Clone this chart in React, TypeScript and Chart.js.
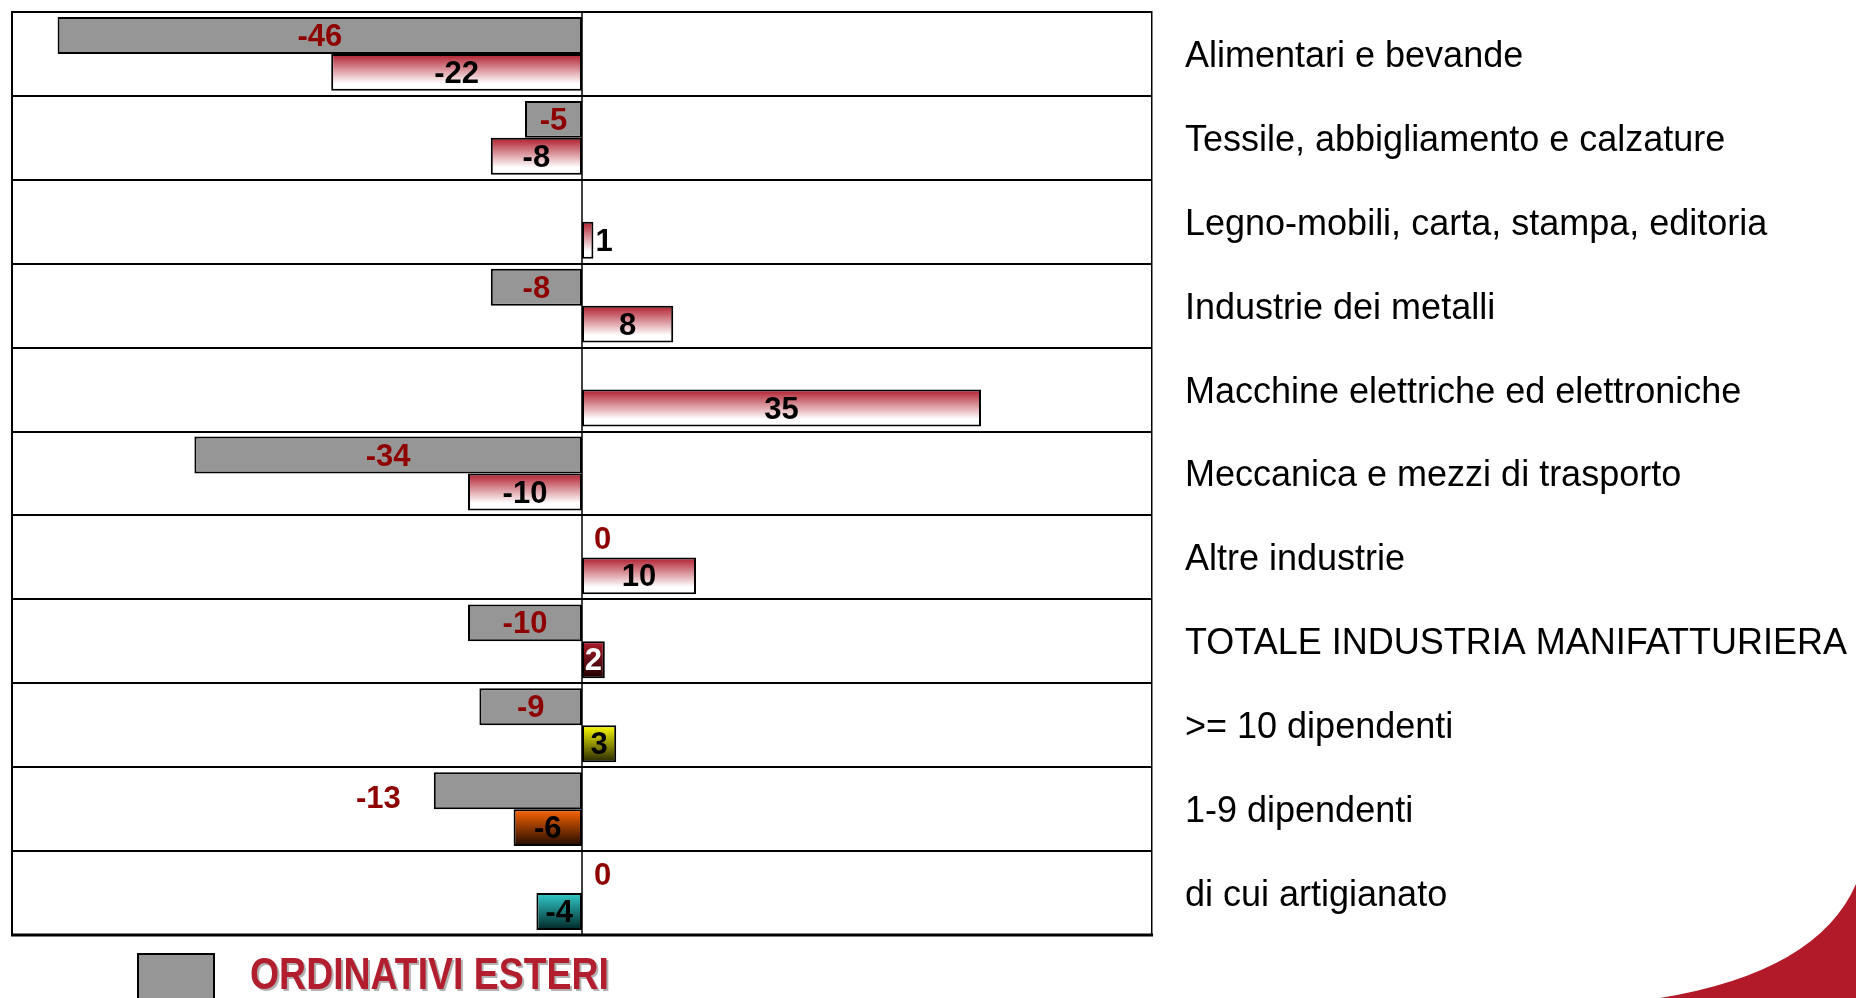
import React, { useEffect, useRef } from 'react';
import { Chart, registerables } from 'chart.js';

Chart.register(...registerables);

// ---------- data ----------
const categories = [
  'Alimentari e bevande',
  'Tessile, abbigliamento e calzature',
  'Legno-mobili, carta, stampa, editoria',
  'Industrie dei metalli',
  'Macchine elettriche ed elettroniche',
  'Meccanica e mezzi di trasporto',
  'Altre industrie',
  'TOTALE INDUSTRIA MANIFATTURIERA',
  '>= 10 dipendenti',
  '1-9 dipendenti',
  'di cui artigianato',
];
const ordinativiEsteri: (number | null)[] = [-46, -5, null, -8, null, -34, 0, -10, -9, -13, 0];
const ordinativiTotali: number[] = [-22, -8, 1, 8, 35, -10, 10, 2, 3, -6, -4];
const seriesNames = ['ORDINATIVI ESTERI', 'ORDINATIVI'];
const xMin = -50;
const xMax = 50;

// ---------- styles ----------
const FONT = 'Arial, "Liberation Sans", sans-serif';
const greyFill = '#969696';
const gradTop = ['#B01C2C', '#B01C2C', '#B01C2C', '#B01C2C', '#B01C2C', '#B01C2C', '#B01C2C', '#B01C2C', '#FFFF00', '#FF6600', '#33CCCC'];
const gradBottom = ['#FFFFFF', '#FFFFFF', '#FFFFFF', '#FFFFFF', '#FFFFFF', '#FFFFFF', '#FFFFFF', '#1E0000', '#262600', '#1E0A00', '#002626'];
const gradEnd = [0.8, 0.8, 0.8, 0.8, 0.8, 0.8, 0.8, 1, 1, 1, 1];
const labelColors = [
  Array(11).fill('#8E0000'),
  ['#000', '#000', '#000', '#000', '#000', '#000', '#000', '#FFFFFF', '#000', '#000', '#000'],
];
const labelPlacement = [
  ['c', 'c', 'c', 'c', 'c', 'c', 'c', 'c', 'c', 'outsideLeft', 'c'],
  Array(11).fill('c'),
];

const gradientPlugin = {
  id: 'barGradients',
  beforeDatasetDraw(chart: any, args: any) {
    if (args.index !== 1) return;
    const { ctx } = chart;
    args.meta.data.forEach((el: any, i: number) => {
      const { y, height } = el.getProps(['y', 'height'], true);
      const g = ctx.createLinearGradient(0, y - height / 2, 0, y + height / 2);
      g.addColorStop(0, gradTop[i]);
      g.addColorStop(gradEnd[i], gradBottom[i]);
      if (gradEnd[i] < 1) g.addColorStop(1, gradBottom[i]);
      try {
        el.options.backgroundColor = g;
      } catch (e) {
        /* ignore */
      }
    });
  },
};

const framePlugin = {
  id: 'frame',
  afterDatasetsDraw(chart: any) {
    const { ctx, chartArea } = chart;
    const zero = chart.scales.x.getPixelForValue(0);
    ctx.save();
    ctx.strokeStyle = '#000';
    // zero line
    ctx.lineWidth = 1.5;
    ctx.beginPath();
    ctx.moveTo(zero, chartArea.top);
    ctx.lineTo(zero, chartArea.bottom);
    ctx.stroke();
    // left border
    ctx.lineWidth = 2;
    ctx.beginPath();
    ctx.moveTo(chartArea.left, chartArea.top - 1);
    ctx.lineTo(chartArea.left, chartArea.bottom + 1);
    ctx.stroke();
    // bottom border (thicker)
    ctx.lineWidth = 3;
    ctx.beginPath();
    ctx.moveTo(chartArea.left - 1, chartArea.bottom);
    ctx.lineTo(chartArea.right + 1, chartArea.bottom);
    ctx.stroke();
    ctx.restore();
  },
};

const labelPlugin = {
  id: 'valueLabels',
  afterDatasetsDraw(chart: any) {
    const { ctx } = chart;
    ctx.save();
    ctx.font = `bold 31px ${FONT}`;
    ctx.textBaseline = 'middle';
    chart.data.datasets.forEach((ds: any, di: number) => {
      const meta = chart.getDatasetMeta(di);
      meta.data.forEach((el: any, i: number) => {
        const v = ds.data[i];
        if (v === null || v === undefined) return;
        const text = String(v);
        const tw = ctx.measureText(text).width;
        const { x, y, base } = el.getProps(['x', 'y', 'base'], true);
        const left = Math.min(x, base);
        const right = Math.max(x, base);
        const w = right - left;
        ctx.fillStyle = labelColors[di][i];
        const place = labelPlacement[di][i];
        if (place === 'outsideLeft') {
          ctx.textAlign = 'right';
          ctx.fillText(text, left - 33, y + 9);
        } else if (w < tw) {
          ctx.textAlign = 'left';
          ctx.fillText(text, right + (v === 0 ? 12 : 2), y + 2);
        } else {
          ctx.textAlign = 'center';
          ctx.fillText(text, (left + right) / 2, y + 2);
        }
      });
    });
    ctx.restore();
  },
};

const legendPlugin = {
  id: 'customLegend',
  afterDraw(chart: any) {
    const { ctx } = chart;
    const ds = chart.data.datasets[0];
    ctx.save();
    // legend swatch
    ctx.fillStyle = ds.backgroundColor;
    ctx.fillRect(138, 954, 76, 60);
    ctx.strokeStyle = '#000';
    ctx.lineWidth = 2;
    ctx.strokeRect(138, 954, 76, 60);
    // legend text
    ctx.font = `bold 44px ${FONT}`;
    ctx.textAlign = 'left';
    ctx.textBaseline = 'alphabetic';
    ctx.shadowColor = 'rgba(0,0,0,0.3)';
    ctx.shadowOffsetX = 2;
    ctx.shadowOffsetY = 2;
    ctx.shadowBlur = 0;
    ctx.fillStyle = '#B21E2D';
    ctx.fillText(ds.label, 250, 989, 359);
    ctx.restore();

    // decorative corner shape
    ctx.save();
    ctx.fillStyle = '#B21A29';
    ctx.beginPath();
    ctx.moveTo(1856, 884);
    ctx.quadraticCurveTo(1818, 972, 1660, 998);
    ctx.lineTo(1856, 998);
    ctx.closePath();
    ctx.fill();
    ctx.restore();
  },
};

export default function App() {
  const canvasRef = useRef<HTMLCanvasElement | null>(null);

  useEffect(() => {
    const canvas = canvasRef.current;
    if (!canvas) return;
    const chart = new Chart(canvas, {
      type: 'bar',
      data: {
        labels: categories,
        datasets: [
          {
            label: seriesNames[0],
            data: ordinativiEsteri,
            backgroundColor: greyFill,
            borderColor: '#000',
            borderWidth: (c: any) => (c.raw === 0 ? 0 : 2),
            borderSkipped: false,
          },
          {
            label: seriesNames[1],
            data: ordinativiTotali,
            backgroundColor: (c: any) => gradTop[c.dataIndex] || '#B01C2C',
            borderColor: '#000',
            borderWidth: 2,
            borderSkipped: false,
          },
        ],
      },
      options: {
        indexAxis: 'y',
        responsive: false,
        maintainAspectRatio: false,
        devicePixelRatio: 1,
        animation: false,
        events: [],
        layout: { padding: { left: 12, top: 12, bottom: 63, right: 0 } },
        datasets: {
          bar: { categoryPercentage: 0.88, barPercentage: 1 },
        },
        plugins: {
          legend: { display: false },
          tooltip: { enabled: false },
        },
        scales: {
          x: {
            display: false,
            min: xMin,
            max: xMax,
          },
          y: {
            position: 'right',
            grid: { offset: true, color: '#000', lineWidth: 2, drawTicks: false },
            border: { display: true, color: '#000', width: 1.5 },
            ticks: {
              padding: 33,
              labelOffset: 3,
              color: '#000',
              crossAlign: 'near',
              font: { family: FONT, size: 36 },
            },
            afterFit: (s: any) => {
              s.width = 704;
              s.paddingTop = 0;
              s.paddingBottom = 0;
            },
          },
        },
      } as any,
      plugins: [gradientPlugin, framePlugin, labelPlugin, legendPlugin],
    });
    return () => chart.destroy();
  }, []);

  return (
    <div style={{ position: 'absolute', left: 0, top: 0, width: 1856, height: 998, background: '#fff', overflow: 'hidden' }}>
      <canvas ref={canvasRef} width={1856} height={998} style={{ display: 'block' }} />
    </div>
  );
}
